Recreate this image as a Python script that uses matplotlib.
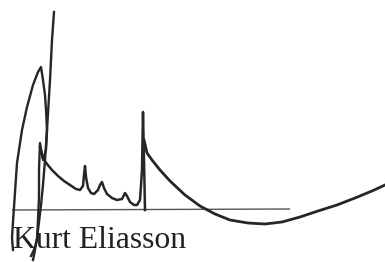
import numpy as np
import matplotlib
matplotlib.use("Agg")
import matplotlib.pyplot as plt

# signature strokes, in image pixel coordinates (x right, y down)
tall_x = [54, 52, 50, 47, 45, 43, 41, 39, 37, 35, 33]
tall_y = [12, 40, 80, 130, 160, 185, 205, 222, 238, 250, 260]

loop_x = [13, 12, 13, 14, 17, 22, 27, 33, 38, 41, 43, 45, 46, 47, 46, 43, 40, 39, 39, 38, 37, 35, 33, 31]
loop_y = [250, 238, 222, 207, 163, 130, 107, 85, 72, 67, 80, 95, 110, 130, 150, 160, 143, 170, 197, 220, 240, 247, 252, 256]

wave_x = [40, 43, 47, 52, 58, 64, 70, 76, 80, 83, 84, 85, 86, 88, 91, 94, 98, 100, 102, 104, 107, 112, 117, 122, 124, 125, 127, 130, 134, 137, 140, 142, 143, 144, 145]
wave_y = [147, 158, 164, 170, 176, 181, 185, 189, 190, 186, 175, 166, 177, 188, 193, 194, 190, 185, 182, 188, 194, 198, 200, 199, 195, 193, 196, 202, 205, 205, 200, 170, 112, 160, 210]

tail_x = [144, 147, 152, 160, 170, 185, 200, 215, 230, 248, 265, 282, 300, 318, 337, 355, 372, 385]
tail_y = [140, 153, 160, 170, 181, 195, 206, 214, 220, 223, 224, 222, 217, 211, 205, 198, 191, 185]

line_x = [12, 290]
line_y = [210, 209]

name = "Kurt Eliasson"

fig = plt.figure(figsize=(3.85, 2.62), dpi=100)
ax = fig.add_axes([0, 0, 1, 1])
ax.set_xlim(0, 385)
ax.set_ylim(262, 0)
ax.axis('off')

ink = '#262626'
ax.plot(line_x, line_y, color='#555555', lw=1.0, solid_capstyle='butt')
ax.plot(tall_x, tall_y, color=ink, lw=1.7, solid_joinstyle='round')
ax.plot(loop_x, loop_y, color=ink, lw=1.7, solid_joinstyle='round')
ax.plot(wave_x, wave_y, color=ink, lw=1.8, solid_joinstyle='round')
ax.plot(tail_x, tail_y, color=ink, lw=2.0, solid_joinstyle='round')

ax.text(13, 248, name, family='Liberation Serif', fontsize=22.8, color='#222222',
        ha='left', va='baseline')

plt.savefig('out.png', dpi=100)
